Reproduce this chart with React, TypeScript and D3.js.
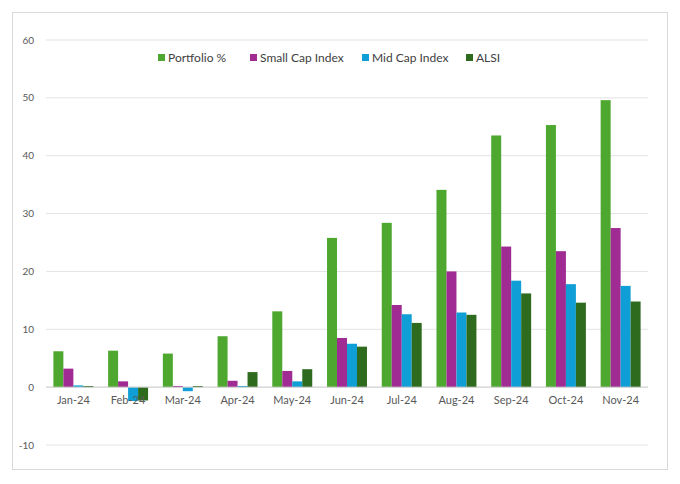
import React from "react";
import { scaleBand, scaleLinear } from "d3";

const months = ["Jan-24", "Feb-24", "Mar-24", "Apr-24", "May-24", "Jun-24", "Jul-24", "Aug-24", "Sep-24", "Oct-24", "Nov-24"];
const seriesNames = ["Portfolio %", "Small Cap Index", "Mid Cap Index", "ALSI"];
const colors = ["#4ea72e", "#a02b93", "#0f9ed5", "#2e6b1f"];
const portfolio = [6.2, 6.3, 5.8, 8.8, 13.1, 25.8, 28.4, 34.1, 43.5, 45.3, 49.6];
const smallCap = [3.2, 1.0, 0.2, 1.1, 2.8, 8.5, 14.2, 20.0, 24.3, 23.5, 27.5];
const midCap = [0.3, -2.4, -0.7, 0.2, 1.0, 7.5, 12.6, 12.9, 18.4, 17.8, 17.5];
const alsi = [0.2, -2.3, 0.2, 2.6, 3.1, 7.0, 11.1, 12.5, 16.2, 14.6, 14.8];
const yTicks = [-10, 0, 10, 20, 30, 40, 50, 60];

const series = [portfolio, smallCap, midCap, alsi];
const font = "Lato, 'Open Sans', sans-serif";

export default function App() {
  const x = scaleBand().domain(months).range([46, 648]).paddingInner(0.27).paddingOuter(0.135);
  const inner = scaleBand().domain(seriesNames).range([0, x.bandwidth()]);
  const y = scaleLinear().domain([-10, 60]).range([445, 40]);
  const legendX = [158, 250, 362, 466];
  return (
    <svg width={680} height={484} style={{ position: "absolute", left: 0, top: 0 }}>
      <rect x={0} y={0} width={680} height={484} fill="#fff" />
      <rect x={12.5} y={12.5} width={655} height={457} fill="none" stroke="#d9d9d9" />
      {yTicks.map((t) => (
        <g key={t}>
          <line x1={46} x2={648} y1={y(t)} y2={y(t)} stroke="#e3e3e3" />
          <text x={34} y={y(t) + 3.5} fontSize={10} fill="#595959" textAnchor="end" fontFamily={font}>{t}</text>
        </g>
      ))}
      {series.map((vals, si) =>
        vals.map((v, i) => (
          <rect key={`${si}-${i}`} x={(x(months[i]) as number) + (inner(seriesNames[si]) as number)}
            y={y(Math.max(0, v))} width={inner.bandwidth()} height={Math.abs(y(v) - y(0))} fill={colors[si]} />
        ))
      )}
      <line x1={46} x2={648} y1={y(0)} y2={y(0)} stroke="#d0d0d0" />
      {months.map((m) => (
        <text key={m} x={(x(m) as number) + x.bandwidth() / 2} y={404} fontSize={11} fill="#595959" textAnchor="middle" fontFamily={font}>{m}</text>
      ))}
      {seriesNames.map((n, i) => (
        <g key={n}>
          <rect x={legendX[i]} y={54} width={7} height={7} fill={colors[i]} />
          <text x={legendX[i] + 10} y={62} fontSize={12} fill="#404040" fontFamily={font}>{n}</text>
        </g>
      ))}
    </svg>
  );
}
